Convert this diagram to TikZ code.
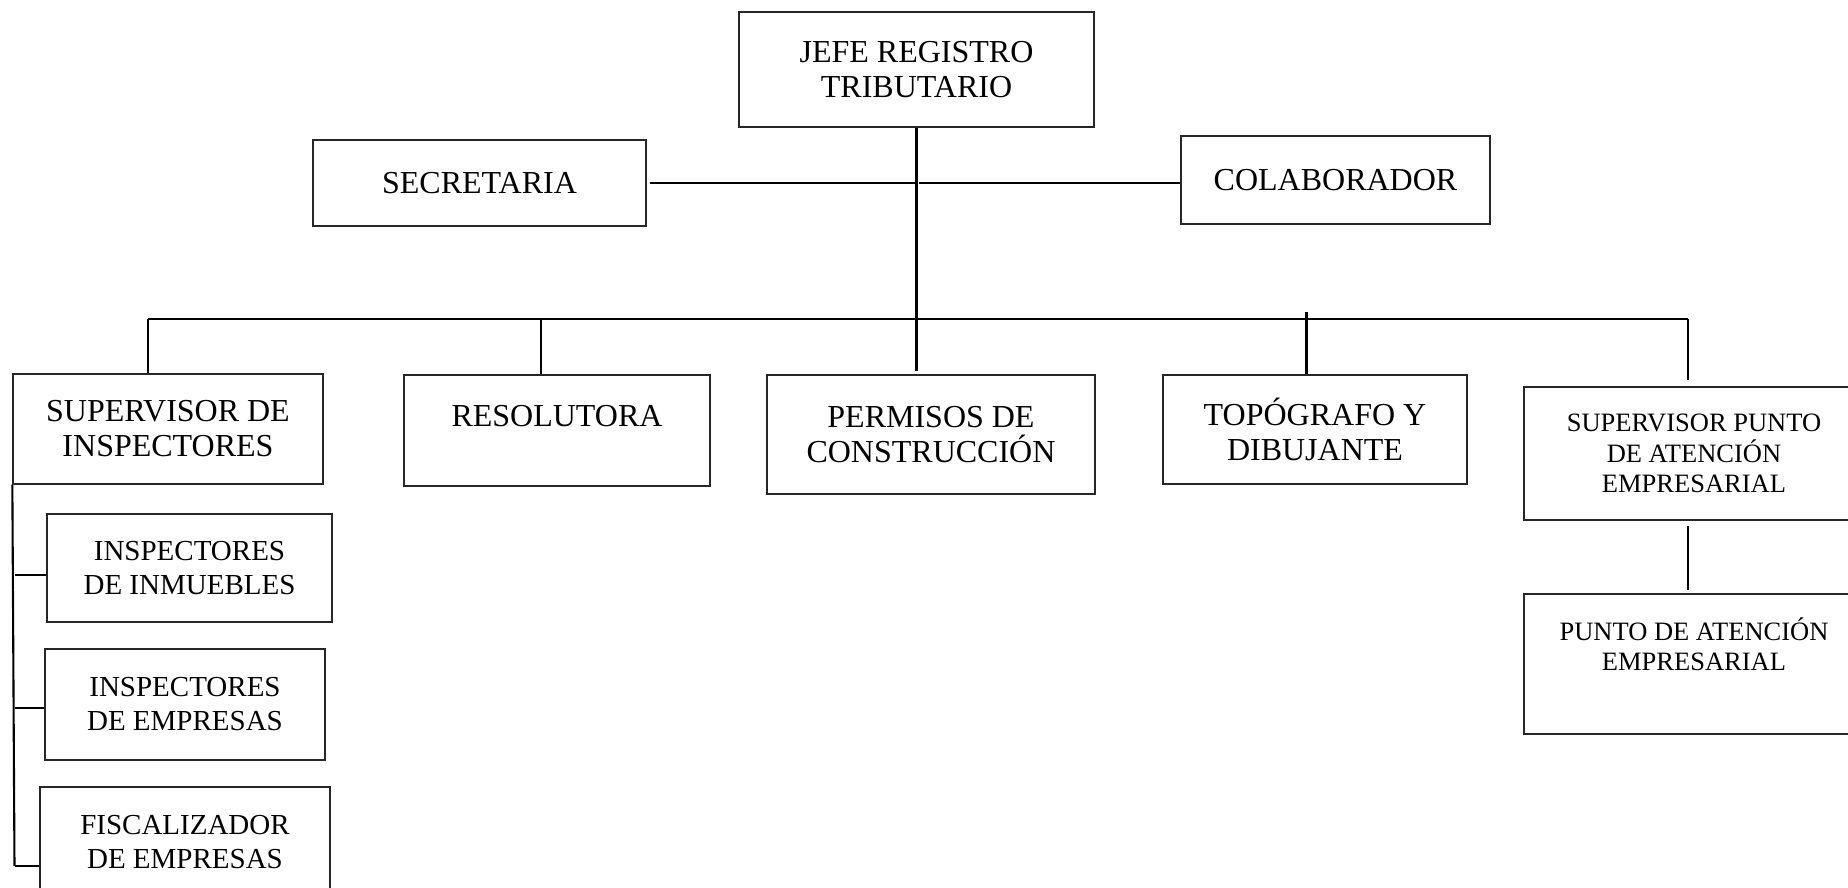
\documentclass[tikz,border=0pt]{standalone}
\usepackage{fontspec}
\setmainfont{Liberation Serif}
\begin{document}
\begin{tikzpicture}[x=1pt,y=-1pt,
  box/.style={draw=black!85, line width=1.3pt, rectangle, align=center, inner sep=0pt, font=\fontsize{32}{35}\selectfont},
  subbox/.style={box, font=\fontsize{29}{34}\selectfont},
  pbox/.style={box, font=\fontsize{26.5}{30.6}\selectfont},
  conn/.style={line width=2.1pt},
  bus/.style={line width=2.6pt}]
\useasboundingbox (0,0) rectangle (1848,887);
\clip (0,0) rectangle (1848,887);
% boxes
\node[box, minimum width=355pt, minimum height=115pt] (jefe) at (916.5,69.5) {JEFE REGISTRO\\TRIBUTARIO};
\node[box, minimum width=333pt, minimum height=86pt] (sec) at (479.5,183) {SECRETARIA};
\node[box, minimum width=309pt, minimum height=88pt] (col) at (1335.5,180) {COLABORADOR};
\node[box, minimum width=310pt, minimum height=110pt] (supi) at (168,429) {SUPERVISOR DE\\INSPECTORES};
\node[box, minimum width=306pt, minimum height=111pt] (res) at (557,430.5) {\smash{\raisebox{4pt}{RESOLUTORA}}};
\node[box, minimum width=328pt, minimum height=119pt] (perm) at (931,434.5) {PERMISOS DE\\CONSTRUCCIÓN};
\node[box, minimum width=304pt, minimum height=109pt] (topo) at (1315,429.5) {TOPÓGRAFO Y\\DIBUJANTE};
\node[pbox, minimum width=340pt, minimum height=133pt] (spunto) at (1694,453.5) {SUPERVISOR PUNTO\\DE ATENCIÓN\\EMPRESARIAL};
\node[pbox, minimum width=340pt, minimum height=140pt] (punto) at (1694,664) {PUNTO DE ATENCIÓN\\EMPRESARIAL\\\strut};
\node[subbox, minimum width=285pt, minimum height=108pt] (insp1) at (189.5,568) {INSPECTORES\\DE INMUEBLES};
\node[subbox, minimum width=280pt, minimum height=111pt] (insp2) at (185,704.5) {INSPECTORES\\DE EMPRESAS};
\node[subbox, minimum width=290pt, minimum height=110pt] (fisc) at (185,842) {FISCALIZADOR\\DE EMPRESAS};
% coordinates
\coordinate (busL) at (148,319);
\coordinate (busR) at (1688,319);
\coordinate (permdrop) at (916.5,371);
\coordinate (rdrop) at (541,319);
\coordinate (tdrop) at (1306.5,312);
\coordinate (spdrop) at (1688,380);
\coordinate (pa) at (1688,526);
\coordinate (pb) at (1688,590);
\coordinate (lvb) at (14.5,866);
\coordinate (t1) at (14.5,575);
\coordinate (t2) at (14.5,708);
% connectors
\draw[conn] (jefe.south) -- (permdrop);
\draw[conn] ([xshift=3pt]sec.east) -- ([xshift=-2pt]sec.east -| jefe.south);
\draw[conn] ([xshift=2pt]jefe.south |- sec.east) -- (col.west |- sec.east);
\draw[bus] (busL) -- (busR);
\draw[conn] (busL) -- (busL |- supi.north);
\draw[conn] (rdrop) -- (rdrop |- res.north);
\draw[conn] (tdrop) -- (tdrop |- topo.north);
\draw[conn] (busR) -- (spdrop);
\draw[conn] (pa) -- (pb);
\draw[conn] (supi.south west) -- (lvb);
\draw[conn] (t1) -- (t1 -| insp1.west);
\draw[conn] (t2) -- (t2 -| insp2.west);
\draw[conn] (lvb) -- (lvb -| fisc.west);
\end{tikzpicture}
\end{document}
